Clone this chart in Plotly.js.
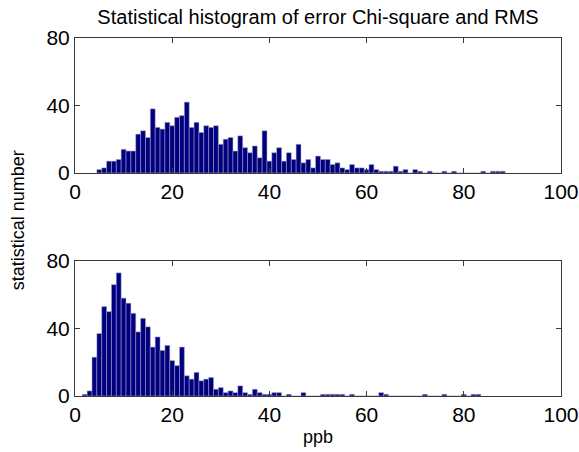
<!DOCTYPE html>
<html>
<head>
<meta charset="utf-8">
<script src="https://cdn.plot.ly/plotly-3.0.1.min.js"></script>
<style>html,body{margin:0;padding:0;background:#fff}#chart{width:579px;height:452px}</style>
</head>
<body>
<div id="chart"></div>
<script>
// Upper panel: bin centres (ppb) and counts
const topCenters = [5,6,7,8,9,10,11,12,13,14,15,16,17,18,19,20,21,22,23,24,25,26,27,28,29,30,31,32,33,34,35,36,37,38,39,40,41,42,43,44,45,46,47,48,49,50,51,52,53,54,55,56,57,58,59,60,61,62,63,64,65,66,67,68,69,70,71,72,73,74,75,76,77,78,79,80,81,82,83,84,85,86,87,88];
const topCounts = [2,3,7,7,8,14,13,13,23,25,
  21,38,27,26,30,28,33,34,42,27,
  30,24,28,27,28,17,20,21,13,22,
  15,12,16,9,25,7,12,15,7,12,
  8,17,6,8,3,10,8,8,5,6,
  3,2,5,3,3,2,5,2,1,1,
  1,4,1,2,0,2,1,0,1,0,
  0,1,0,1,0,0,0,0,0,1,
  0,1,1,1];

// Lower panel: bin centres (ppb) and counts
const botCenters = [2,3,4,5,6,7,8,9,10,11,12,13,14,15,16,17,18,19,20,21,22,23,24,25,26,27,28,29,30,31,32,33,34,35,36,37,38,39,40,41,42,43,44,45,46,47,48,49,50,51,52,53,54,55,56,57,58,59,60,61,62,63,64,65,66,67,68,69,70,71,72,73,74,75,76,77,78,79,80,81,82,83];
const botCounts = [1,3,23,37,53,50,66,73,58,55,
  49,38,46,41,29,35,27,30,21,18,
  29,12,10,14,9,10,11,4,5,2,
  3,2,6,2,1,4,2,1,1,2,
  2,0,1,0,0,2,0,0,0,1,
  1,1,1,1,0,1,0,0,0,0,
  0,2,1,0,0,0,0,0,0,0,
  1,0,0,0,1,0,0,0,1,0,
  1,1];

const xTicks = [0,20,40,60,80,100];
const yTicks = [0,40,80];
const titleText = 'Statistical histogram of error Chi-square and RMS';
const yLabel = 'statistical number';
const xLabel = 'ppb';

const barStyle = {color:'#000080', line:{color:'#a8a8c0', width:0.5}};

const traces = [
  {type:'bar', x:topCenters, y:topCounts, width:1, marker:barStyle, xaxis:'x', yaxis:'y', hoverinfo:'x+y'},
  {type:'bar', x:botCenters, y:botCounts, width:1, marker:barStyle, xaxis:'x2', yaxis:'y2', hoverinfo:'x+y'}
];

const font = {family:'Liberation Sans, Arial, sans-serif', color:'#000'};
const axBase = {
  showline:true, mirror:'ticks', linecolor:'#3a3a3a', linewidth:1,
  ticks:'inside', ticklen:5, tickcolor:'#3a3a3a', tickwidth:1,
  showgrid:false, zeroline:false, fixedrange:true,
  tickfont:{family:font.family, size:21, color:'#000'}
};

const layout = {
  width:579, height:452,
  margin:{l:75, r:18, t:38, b:56},
  paper_bgcolor:'#fff', plot_bgcolor:'#fff',
  showlegend:false, bargap:0,
  font:font,
  title:{text:titleText, x:0.5, xref:'paper', y:1-17/452, yref:'container', yanchor:'middle', font:{family:font.family, size:20, color:'#000'}},
  xaxis: Object.assign({}, axBase, {domain:[0,1], range:[0,100], tickvals:xTicks, anchor:'y'}),
  yaxis: Object.assign({}, axBase, {domain:[0.623,1], range:[0,80], tickvals:yTicks, anchor:'x'}),
  xaxis2: Object.assign({}, axBase, {domain:[0,1], range:[0,100], tickvals:xTicks, anchor:'y2'}),
  yaxis2: Object.assign({}, axBase, {domain:[0,0.377], range:[0,80], tickvals:yTicks, anchor:'x2'}),
  annotations:[
    {text:yLabel, xref:'paper', yref:'paper', x:-0.118, y:0.49, textangle:-90, showarrow:false, xanchor:'center', yanchor:'middle', font:{family:font.family, size:18, color:'#000'}},
    {text:xLabel, xref:'paper', yref:'paper', x:0.5, y:-0.115, showarrow:false, xanchor:'center', yanchor:'middle', font:{family:font.family, size:18, color:'#000'}}
  ]
};

Plotly.newPlot('chart', traces, layout, {displayModeBar:false, staticPlot:true});
</script>
</body>
</html>
